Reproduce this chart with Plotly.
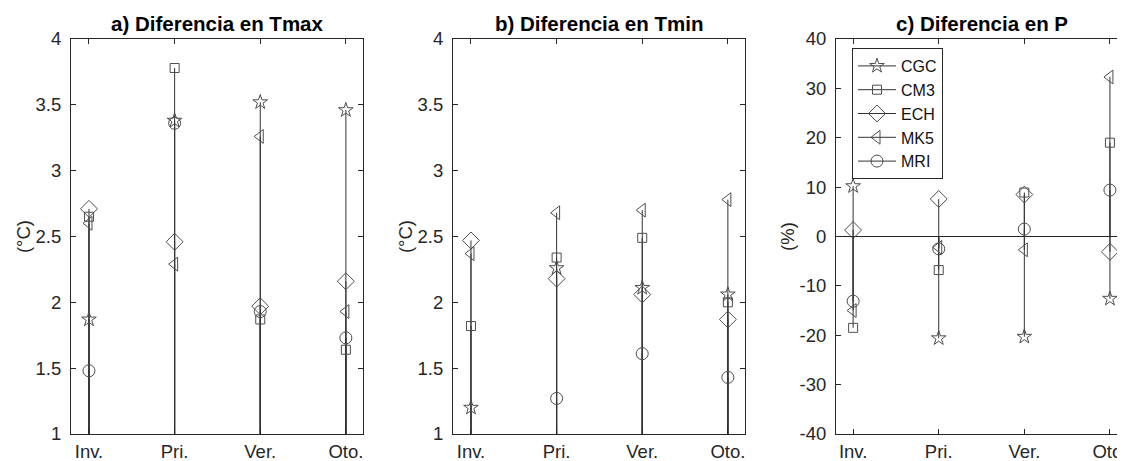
import plotly.graph_objects as go

# ---------------- data ----------------
seasons = ["Inv.", "Pri.", "Ver.", "Oto."]
models = ["CGC", "CM3", "ECH", "MK5", "MRI"]

# a) Diferencia en Tmax (°C)
tmax_cgc = [1.87, 3.38, 3.52, 3.46]
tmax_cm3 = [2.65, 3.78, 1.87, 1.64]
tmax_ech = [2.71, 2.46, 1.97, 2.16]
tmax_mk5 = [2.60, 2.29, 3.26, 1.93]
tmax_mri = [1.48, 3.36, 1.93, 1.73]

# b) Diferencia en Tmin (°C)
tmin_cgc = [1.20, 2.26, 2.11, 2.06]
tmin_cm3 = [1.82, 2.34, 2.49, 2.00]
tmin_ech = [2.47, 2.18, 2.06, 1.87]
tmin_mk5 = [2.37, 2.68, 2.70, 2.78]
tmin_mri = [0.90, 1.27, 1.61, 1.43]

# c) Diferencia en P (%)
p_cgc = [10.2, -20.6, -20.3, -12.6]
p_cm3 = [-18.5, -6.8, 8.9, 19.0]
p_ech = [1.3, 7.6, 8.5, -3.1]
p_mk5 = [-15.0, -2.2, -2.7, 32.3]
p_mri = [-13.1, -2.5, 1.5, 9.4]

# tick values / labels
t_ticks = [1, 1.5, 2, 2.5, 3, 3.5, 4]
t_ticklabels = ["1", "1.5", "2", "2.5", "3", "3.5", "4"]
p_ticks = [-40, -30, -20, -10, 0, 10, 20, 30, 40]
p_ticklabels = ["-40", "-30", "-20", "-10", "0", "10", "20", "30", "40"]

panel_titles = ["a) Diferencia en Tmax", "b) Diferencia en Tmin", "c) Diferencia en P"]
y_titles = ["(°C)", "(°C)", "(%)"]
stem_base = 0

panels = [
    [tmax_cgc, tmax_cm3, tmax_ech, tmax_mk5, tmax_mri],
    [tmin_cgc, tmin_cm3, tmin_ech, tmin_mk5, tmin_mri],
    [p_cgc, p_cm3, p_ech, p_mk5, p_mri],
]
y_tickvals = [t_ticks, t_ticks, p_ticks]
y_ticktexts = [t_ticklabels, t_ticklabels, p_ticklabels]

# ---------------- style ----------------
OFF = 8                      # page body margin
W, H = 1125 - OFF, 461 - OFF  # figure size so that it fills the window
FONT = "Liberation Sans, Arial, sans-serif"
AX = "#262626"
STEM = "#333333"
MARK = "#4d4d4d"
symbols = {"CGC": "star-open", "CM3": "square-open", "ECH": "diamond-open",
           "MK5": "triangle-left-open", "MRI": "circle-open"}
sizes = {"CGC": 11, "CM3": 9, "ECH": 13, "MK5": 12, "MRI": 12}


def px(x):
    return (x - OFF) / W


def py(y):
    return 1 - (y - OFF) / H


dom_x = [(px(71), px(363)), (px(453), px(745)), (px(836), 1.0)]
dom_y = (py(434), py(39))
x_ranges = [[-0.21, 3.2], [-0.21, 3.2], [-0.2, 3.176]]
y_ranges = [[1, 4], [1, 4], [-40, 40]]

fig = go.Figure()

for p, series in enumerate(panels):
    xa = "x" if p == 0 else f"x{p+1}"
    ya = "y" if p == 0 else f"y{p+1}"
    for m, vals in zip(models, series):
        sx, sy = [], []
        for s, v in zip(seasons, vals):
            sx += [s, s, None]
            sy += [stem_base, v, None]
        fig.add_trace(go.Scatter(
            x=sx, y=sy, mode="lines", xaxis=xa, yaxis=ya,
            line=dict(color=STEM, width=1), showlegend=False, hoverinfo="skip"))
    for m, vals in zip(models, series):
        mx, my = [], []
        for s, v in zip(seasons, vals):
            mx += [s, None]
            my += [v, None]
        fig.add_trace(go.Scatter(
            x=mx, y=my, mode="lines+markers", name=m, xaxis=xa, yaxis=ya,
            connectgaps=False,
            line=dict(color=STEM, width=1),
            marker=dict(symbol=symbols[m], size=sizes[m], color=MARK,
                        line=dict(color=MARK, width=1)),
            showlegend=(p == 2), legendgroup=m))

layout = dict(
    width=W, height=H,
    margin=dict(l=0, r=0, t=0, b=0, autoexpand=False),
    paper_bgcolor="white", plot_bgcolor="white",
    font=dict(family=FONT, size=18.5, color=AX),
    showlegend=True,
    legend=dict(x=px(852), y=py(48), xanchor="left", yanchor="top",
                bgcolor="white", bordercolor=AX, borderwidth=1,
                font=dict(size=16, color="#111111"),
                itemwidth=38, tracegroupgap=0),
    annotations=[],
)

for p in range(3):
    xk = "xaxis" if p == 0 else f"xaxis{p+1}"
    yk = "yaxis" if p == 0 else f"yaxis{p+1}"
    ya = "y" if p == 0 else f"y{p+1}"
    xa = "x" if p == 0 else f"x{p+1}"
    layout[xk] = dict(
        domain=list(dom_x[p]), anchor=ya, type="category", automargin=False,
        categoryorder="array", categoryarray=seasons,
        range=x_ranges[p], showgrid=False, zeroline=False,
        showline=True, linecolor=AX, linewidth=1, mirror="ticks",
        ticks="inside", ticklen=5, tickcolor=AX, tickwidth=1,
        tickfont=dict(size=18.5, color=AX), ticklabelstandoff=1)
    layout[yk] = dict(
        domain=list(dom_y), anchor=xa, range=y_ranges[p],
        tickmode="array", tickvals=y_tickvals[p], ticktext=y_ticktexts[p],
        automargin=False,
        showgrid=False, zeroline=(p == 2), zerolinecolor=AX, zerolinewidth=1,
        showline=True, linecolor=AX, linewidth=1, mirror="ticks",
        ticks="inside", ticklen=5, tickcolor=AX, tickwidth=1,
        tickfont=dict(size=18.5, color=AX), ticklabelstandoff=5,
        title=dict(text=y_titles[p], font=dict(size=18.5, color=AX), standoff=0))
    layout["annotations"].append(dict(
        text=f"<b>{panel_titles[p]}</b>", xref="paper", yref="paper",
        x=(dom_x[p][0] + px(292 + OFF) + dom_x[p][0]) / 2, y=py(24),
        xanchor="center", yanchor="middle", showarrow=False,
        font=dict(size=20.5, color="#000000", family=FONT)))

fig.update_layout(**layout)
fig.write_html("out.html")
